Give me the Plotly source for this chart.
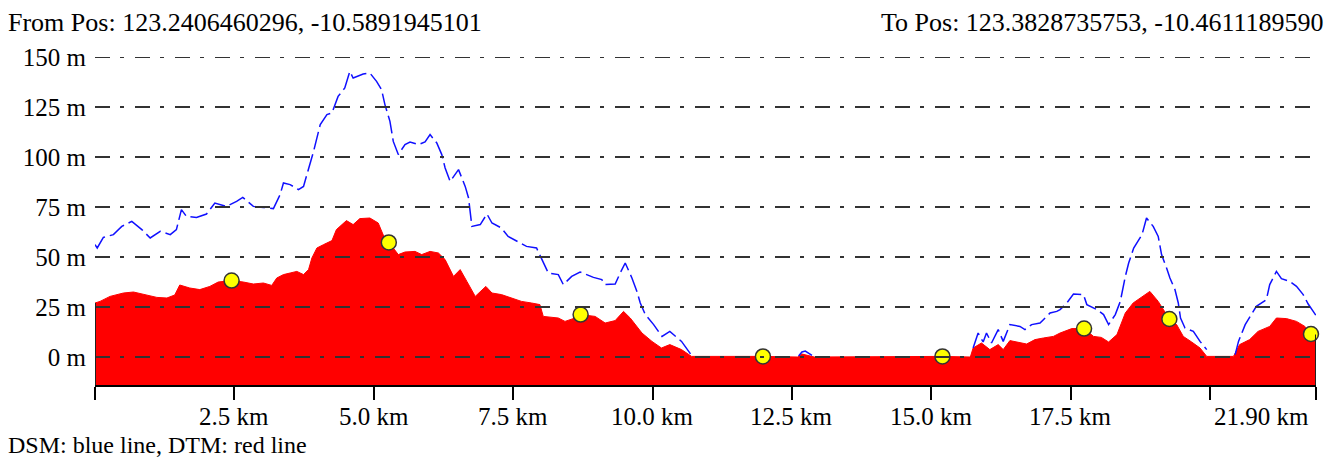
import plotly.graph_objects as go

# ---------------- data ----------------
header_left = "From Pos: 123.2406460296, -10.5891945101"
header_right = "To Pos: 123.3828735753, -10.4611189590"
footer = "DSM: blue line, DTM: red line"

dtm_km = [0.00, 0.09, 0.27, 0.51, 0.69, 0.87, 1.11, 1.29, 1.43, 1.52, 1.70, 1.88, 2.06, 2.21,
          2.45, 2.66, 2.84, 3.02, 3.17, 3.26, 3.38, 3.50, 3.62, 3.74, 3.83, 3.89, 3.98, 4.10,
          4.25, 4.33, 4.51, 4.63, 4.75, 4.93, 5.08, 5.17, 5.27, 5.44, 5.56, 5.74, 5.86, 6.01,
          6.16, 6.28, 6.43, 6.55, 6.67, 6.82, 7.01, 7.12, 7.29, 7.47, 7.65, 7.83, 7.98, 8.04,
          8.31, 8.43, 8.61, 8.71, 8.97, 9.15, 9.33, 9.48, 9.60, 9.81, 9.99, 10.16, 10.31, 10.52,
          10.70, 11.98, 12.60, 12.68, 12.80, 12.90, 15.20, 15.70, 15.75, 15.90, 16.05, 16.20,
          16.29, 16.41, 16.71, 16.86, 17.01, 17.19, 17.31, 17.52, 17.74, 17.91, 18.05, 18.18,
          18.33, 18.48, 18.62, 18.80, 18.92, 19.07, 19.22, 19.27, 19.40, 19.52, 19.67, 19.82,
          19.94, 20.42, 20.53, 20.71, 20.86, 21.07, 21.19, 21.37, 21.55, 21.70, 21.82, 21.90]
dtm_m = [27.0, 27.8, 30.3, 32.0, 32.5, 31.2, 29.8, 29.5, 31.0, 36.0, 34.5, 33.7, 35.3, 37.5,
         38.2, 37.5, 36.5, 37.0, 35.8, 39.5, 41.2, 42.0, 42.8, 41.2, 43.7, 49.5, 54.5, 56.2,
         58.2, 63.7, 68.2, 66.2, 69.2, 69.5, 67.0, 61.0, 57.3, 51.2, 52.5, 52.8, 51.2, 52.8,
         52.0, 48.7, 40.3, 43.7, 37.8, 30.3, 35.3, 32.0, 31.2, 29.5, 27.8, 27.0, 26.2, 20.3,
         19.5, 17.8, 19.5, 21.2, 20.3, 17.0, 18.2, 22.8, 19.5, 12.0, 7.8, 4.5, 6.2, 3.7,
         0.3, 0.3, 0.0, 1.5, 0.8, 0.0, 0.3, 0.0, 4.5, 7.0, 3.7, 6.2,
         3.7, 8.2, 6.5, 8.7, 9.5, 10.3, 12.0, 14.2, 14.2, 10.3, 9.8, 7.5,
         11.2, 22.0, 27.0, 30.3, 32.8, 27.8, 21.2, 19.0, 16.2, 10.3, 7.5, 4.5,
         0.3, 0.3, 6.2, 8.7, 12.8, 15.3, 19.5, 19.2, 17.8, 15.3, 11.5, 11.2]

dsm_km = [0.00, 0.04, 0.15, 0.33, 0.48, 0.66, 0.84, 0.99, 1.17, 1.35, 1.46, 1.55, 1.64, 1.82,
          2.00, 2.15, 2.36, 2.54, 2.65, 2.72, 2.84, 3.02, 3.20, 3.32, 3.38, 3.50, 3.65, 3.74,
          3.86, 3.92, 4.04, 4.16, 4.25, 4.36, 4.48, 4.57, 4.63, 4.81, 4.93, 5.05, 5.14, 5.20,
          5.29, 5.35, 5.44, 5.56, 5.65, 5.80, 5.92, 6.01, 6.13, 6.22, 6.28, 6.37, 6.52, 6.64,
          6.70, 6.76, 6.91, 7.03, 7.12, 7.29, 7.41, 7.59, 7.74, 7.92, 8.04, 8.13, 8.31, 8.40,
          8.55, 8.70, 8.94, 9.09, 9.15, 9.33, 9.42, 9.51, 9.63, 9.72, 9.78, 9.87, 10.02, 10.17,
          10.31, 10.52, 10.70, 10.75,
          12.62, 12.68, 12.74, 12.80, 12.86, 12.90,
          15.70, 15.75, 15.84, 15.93, 15.99, 16.08, 16.20, 16.29, 16.41, 16.59, 16.68, 16.80,
          16.95, 17.13, 17.25, 17.31, 17.43, 17.55, 17.73, 17.79, 17.97, 18.09, 18.18, 18.30,
          18.39, 18.48, 18.54, 18.63, 18.78, 18.86, 18.98, 19.07, 19.13, 19.22, 19.28, 19.37,
          19.43, 19.47, 19.55, 19.70, 19.82, 19.94, 20.00,
          20.40, 20.45, 20.51, 20.63, 20.72, 20.83, 21.01, 21.07, 21.19, 21.28, 21.43, 21.55,
          21.67, 21.76, 21.85, 21.91]
dsm_m = [56.2, 54.5, 59.8, 61.2, 65.3, 67.8, 63.7, 59.5, 62.8, 61.2, 63.7, 73.7, 70.3, 69.8,
         71.5, 77.0, 75.3, 77.8, 79.8, 78.2, 75.3, 74.8, 74.2, 81.2, 87.0, 86.2, 83.7, 85.3,
         96.2, 102.8, 116.2, 121.2, 122.0, 130.3, 134.5, 142.8, 139.5, 141.5, 142.0, 137.8, 133.7, 126.2,
         117.8, 107.8, 101.2, 106.2, 107.5, 106.2, 107.5, 111.2, 107.0, 101.2, 94.5, 87.8, 93.7, 85.3,
         79.5, 65.3, 66.2, 71.5, 67.0, 64.5, 60.3, 57.8, 55.3, 54.5, 47.8, 42.0, 41.2, 36.2,
         40.3, 42.5, 39.8, 38.7, 36.2, 36.5, 42.0, 47.0, 39.5, 32.8, 27.0, 21.2, 16.2, 10.3,
         12.8, 7.8, 0.8, None,
         0.5, 2.5, 3.0, 1.8, 0.8, None,
         None, 4.5, 12.0, 7.5, 12.0, 7.0, 13.7, 7.8, 16.2, 15.3, 13.7, 16.2,
         17.0, 22.0, 22.8, 23.7, 27.0, 31.5, 31.2, 26.2, 23.7, 21.2, 16.2, 21.2,
         27.8, 40.3, 47.0, 54.5, 61.2, 69.5, 65.3, 60.3, 51.2, 44.5, 39.5, 33.7,
         27.0, 19.5, 14.5, 12.8, 7.8, 3.7, None,
         None, 1.2, 7.8, 16.2, 20.3, 25.3, 28.7, 36.2, 42.8, 39.2, 37.8, 35.3,
         31.2, 26.5, 22.8, 20.3]

pt_km = [2.45, 5.27, 8.71, 11.98, 15.20, 17.74, 19.27, 21.81]
pt_m = [38.2, 57.3, 21.2, 0.3, 0.3, 14.2, 19.0, 11.5]

y_ticks = [0, 25, 50, 75, 100, 125, 150]
y_labels = [f"{v} m" for v in y_ticks]
x_ticks = [0, 2.5, 5.0, 7.5, 10.0, 12.5, 15.0, 17.5, 20.0, 21.90]
x_labels = ["", "2.5 km", "5.0 km", "7.5 km", "10.0 km", "12.5 km", "15.0 km", "17.5 km", "", "21.90 km"]

y_min, y_max = -14, 150
x_max = 21.90

# ---------------- figure ----------------
FONT = "Liberation Serif, Times New Roman, serif"
fig = go.Figure()

# baseline for the red fill (bottom of plot)
fig.add_trace(go.Scatter(x=[dtm_km[0], dtm_km[-1]], y=[y_min, y_min], mode="lines",
                         line=dict(width=0, color="rgba(0,0,0,0)"), hoverinfo="skip",
                         showlegend=False))
fig.add_trace(go.Scatter(x=dtm_km, y=dtm_m, mode="lines", fill="tonexty",
                         fillcolor="#ff0000", line=dict(color="#ff0000", width=1),
                         showlegend=False, name="DTM"))
fig.add_trace(go.Scatter(x=dsm_km, y=dsm_m, mode="lines", connectgaps=False,
                         line=dict(color="#1010ff", width=1.5, dash="18px,5px"),
                         showlegend=False, name="DSM"))
fig.add_trace(go.Scatter(x=pt_km, y=pt_m, mode="markers", cliponaxis=False,
                         marker=dict(size=15, color="#ffff00",
                                     line=dict(color="#333333", width=1.5)),
                         showlegend=False))

shapes = []
for v in y_ticks:
    shapes.append(dict(type="line", xref="paper", yref="y", x0=0, x1=1, y0=v, y1=v,
                       layer="above",
                       line=dict(color="#333333", width=2, dash="15px,10px,4px,11px")))
# dark edges of the DTM polygon
shapes.append(dict(type="line", xref="x", yref="y", x0=dtm_km[0], x1=dtm_km[0],
                   y0=y_min, y1=dtm_m[0], layer="above", line=dict(color="#222222", width=2)))
shapes.append(dict(type="line", xref="x", yref="y", x0=dtm_km[-1], x1=dtm_km[-1],
                   y0=y_min, y1=dtm_m[-1], layer="above", line=dict(color="#222222", width=2)))

annotations = [
    dict(text=header_left, xref="paper", yref="paper", x=-0.0729, y=1.104,
         xanchor="left", yanchor="middle", showarrow=False,
         font=dict(family=FONT, size=26, color="black")),
    dict(text=header_right, xref="paper", yref="paper", x=1.0082, y=1.104,
         xanchor="right", yanchor="middle", showarrow=False,
         font=dict(family=FONT, size=26, color="black")),
    dict(text=footer, xref="paper", yref="paper", x=-0.0729, y=-0.182,
         xanchor="left", yanchor="middle", showarrow=False,
         font=dict(family=FONT, size=24, color="black")),
]
# x tick labels (last one right-aligned at the end of the axis)
for xv, lab in zip(x_ticks, x_labels):
    if not lab:
        continue
    last = xv == x_ticks[-1]
    annotations.append(dict(text=lab, xref="x", yref="paper", x=xv, y=-0.096,
                            xanchor="right" if last else "center", yanchor="middle",
                            xshift=-5 if last else 0, showarrow=False,
                            font=dict(family=FONT, size=25, color="black")))

fig.update_layout(
    width=1328, height=457,
    margin=dict(l=95, r=12, t=57, b=72),
    paper_bgcolor="white", plot_bgcolor="white",
    font=dict(family=FONT, size=25, color="black"),
    shapes=shapes, annotations=annotations,
    showlegend=False,
)
fig.update_xaxes(range=[0, x_max], tickmode="array", tickvals=x_ticks,
                 ticktext=[""] * len(x_ticks),
                 showgrid=False, zeroline=False, showline=True, linecolor="black",
                 linewidth=2, ticks="outside", ticklen=13, tickwidth=2, tickcolor="black")
fig.update_yaxes(range=[y_min, y_max], tickmode="array", tickvals=y_ticks, ticktext=y_labels,
                 showgrid=False, zeroline=False, showline=False, ticks="",
                 ticklabelstandoff=8,
                 tickfont=dict(family=FONT, size=25, color="black"))

fig.write_html("out.html", config={"displayModeBar": False},
               post_script="document.body.style.margin='0px';document.body.style.overflow='hidden';")
